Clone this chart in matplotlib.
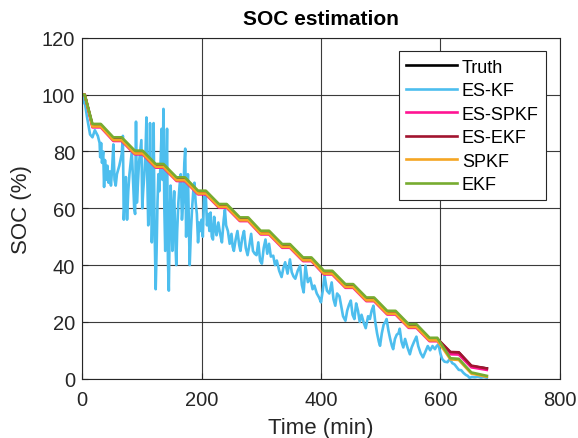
import numpy as np
import matplotlib
matplotlib.use('Agg')
import matplotlib.pyplot as plt

########## Data ##########
# staircase vertices (min) shared by the model-based filters
t_step = [0, 4, 17, 31, 52, 66, 88, 101, 123, 136, 158, 172, 194, 207, 229, 242, 264, 278, 299, 313,
          335, 348, 370, 384, 405, 419, 441, 454, 476, 489, 511, 525, 547, 560, 582, 595, 617, 631, 652, 678]

soc_truth = [100, 100, 89.1, 89.1, 84.4, 84.4, 79.7, 79.7, 75.0, 75.0, 70.3, 70.3, 65.6, 65.6, 60.9, 60.9,
             56.2, 56.2, 51.5, 51.5, 46.8, 46.8, 42.1, 42.1, 37.4, 37.4, 32.7, 32.7, 28.0, 28.0, 23.3, 23.3,
             18.6, 18.6, 13.9, 13.9, 9.2, 9.2, 4.4, 3.6]
soc_es_spkf = [100, 100, 88.5, 88.5, 83.7, 83.7, 79.0, 79.0, 74.3, 74.3, 69.6, 69.6, 64.9, 64.9, 60.2, 60.2,
               55.5, 55.5, 50.8, 50.8, 46.1, 46.1, 41.4, 41.4, 36.7, 36.7, 32.0, 32.0, 27.3, 27.3, 22.6, 22.6,
               17.9, 17.9, 13.2, 13.2, 8.6, 8.5, 4.0, 3.1]
soc_es_ekf = [100, 100, 89.3, 89.3, 84.6, 84.6, 79.9, 79.9, 75.2, 75.2, 70.5, 70.5, 65.8, 65.8, 61.1, 61.1,
              56.4, 56.4, 51.7, 51.7, 47.0, 47.0, 42.3, 42.3, 37.6, 37.6, 32.9, 32.9, 28.2, 28.2, 23.5, 23.5,
              18.8, 18.8, 14.1, 14.1, 9.4, 9.3, 4.6, 3.6]
soc_spkf = [100, 100, 88.8, 88.8, 84.0, 84.0, 79.3, 79.3, 74.6, 74.6, 69.9, 69.9, 65.2, 65.2, 60.5, 60.5,
            55.8, 55.8, 51.1, 51.1, 46.4, 46.4, 41.7, 41.7, 37.0, 37.0, 32.3, 32.3, 27.6, 27.6, 22.9, 22.9,
            18.2, 18.2, 13.5, 13.5, 6.8, 6.6, 1.8, 0.7]
soc_ekf = [100, 100, 89.7, 89.7, 85.0, 85.0, 80.3, 80.3, 75.6, 75.6, 70.9, 70.9, 66.2, 66.2, 61.5, 61.5,
           56.8, 56.8, 52.1, 52.1, 47.4, 47.4, 42.7, 42.7, 38.0, 38.0, 33.3, 33.3, 28.6, 28.6, 23.9, 23.9,
           19.2, 19.2, 14.4, 14.4, 7.2, 7.0, 2.2, 1.0]

# ES-KF (noisy) vertices
t_eskf = [0, 3, 8, 13, 17, 21, 26, 29,
          30, 31.5, 33, 35, 36.5, 38, 40, 42, 44, 46, 48, 50, 52, 54, 56, 58, 60,
          62, 64, 66, 68, 69.5, 71, 73, 75, 77, 79, 81, 83, 85, 87, 88.5, 90, 91.5, 93, 95,
          97, 99, 100.5, 102, 104, 106, 107.5, 109, 110.5, 112, 113.5, 115, 116.5, 118, 119.5, 121, 123, 124.5, 126, 127.5,
          129, 131, 133, 134.5, 136, 137.5, 139, 140.5, 142, 143.5, 145, 146.5, 148, 149.5, 151, 152.5, 154, 156, 157.5, 159,
          161, 163, 165, 167, 169, 171, 172.5, 174, 175.5, 177, 178.5, 180, 182, 184, 186, 188, 190, 192, 194, 196, 198, 200,
          202, 204, 207, 209, 211, 213, 215, 217, 219, 221, 223, 225, 228, 231, 234, 237, 239, 241, 244, 247,
          250, 252, 254, 257, 260, 263, 265, 268, 271, 274, 277, 280, 283, 286, 289, 292, 295, 298, 301,
          304, 307, 310, 313, 316, 320, 323, 326, 330, 334, 337, 340, 344, 348, 351, 354, 357, 361, 365, 368,
          371, 374, 378, 382, 386, 389, 393, 397, 400, 403, 406, 410, 414, 418, 421, 424,
          427, 431, 434, 437, 441, 444, 447, 450, 453, 456, 459, 462, 465, 468, 472, 475, 479, 482, 485, 488,
          491, 494, 497, 499,
          502, 505, 508, 510, 513, 516, 519, 521, 524, 527, 530, 532, 535, 538, 541, 545, 549, 552, 556, 560,
          563, 567, 571, 575, 579, 583, 587, 591, 594, 597, 600, 603, 607, 612, 616, 620, 624, 627, 631, 635,
          639, 643, 646, 649, 653, 658, 663, 668, 673, 678]
soc_eskf = [97, 99, 92, 86, 85, 87.5, 85.5, 83,
            78, 83, 76, 80, 67.5, 77, 70, 75, 69, 73, 68, 74, 82.5, 70, 68, 72, 73.5,
            75, 77, 79, 85.5, 56, 62, 71, 56, 66, 72, 76, 80, 70, 60, 58, 90.5, 62, 68, 76,
            80, 84, 60, 66, 72, 80, 92, 70, 54, 60, 90, 70, 48, 58, 90, 55, 31.5, 45, 62, 72,
            66, 75, 88, 70, 95, 60, 45, 70, 88, 42, 31, 55, 68, 58, 45, 60, 66, 48, 40, 52,
            62, 68, 72, 56, 62, 76, 81, 50, 64, 72, 56, 40, 52, 60, 66, 69, 62, 58, 48, 55, 52, 56,
            50, 64, 64.5, 54, 58, 52, 58.5, 50, 49, 57, 53, 50.5, 55, 51, 48, 56, 59.5, 54, 52, 47.5,
            51, 46.5, 45, 49, 52, 47, 45, 49.5, 52, 46, 43.5, 47, 51, 45, 44, 43.5, 48, 41.5, 40.5,
            46, 49, 44, 47.5, 43, 43.3, 40, 41.6, 38, 35.8, 39, 41, 37, 42, 37.5, 36, 35.2, 38, 39.8, 33,
            30.4, 39.8, 34, 35.5, 31.5, 32.8, 30, 28.5, 26.9, 31, 36.3, 31, 30, 33.9, 28, 25.7,
            30, 29, 25.5, 22, 20.4, 24, 26, 27.5, 22.5, 21, 26.5, 24, 20, 22.5, 19.5, 17.8, 22, 21, 24, 25.7,
            20, 16, 13, 11.6,
            16, 19, 20, 21, 17, 14, 11.5, 10.4, 14, 15.5, 16, 17.6, 13, 11, 14, 11, 8.6, 11, 13, 14.8,
            11.5, 9, 7.5, 9.5, 11.5, 10, 11.5, 10.4, 11.5, 12.1, 9, 7, 6, 5.8, 7, 5.5, 5, 4.2, 3.1, 3,
            2, 1.3, 1, 0.3, 0.6, 0.5, 0.7, 0.4, 0.6, 0.3]

series = ['Truth', 'ES-KF', 'ES-SPKF', 'ES-EKF', 'SPKF', 'EKF']
colors = ['#000000', '#4dbeee', '#ff1493', '#a2142f', '#f5a623', '#77ac30']

########## Plot ##########
plt.rcParams['font.family'] = ['Liberation Sans', 'DejaVu Sans']
fig = plt.figure(figsize = [5.78, 4.39], dpi = 100)
ax = fig.add_axes([0.1424, 0.1351, 0.8258, 0.7763])

lw = 1.9
ax.plot(t_step, soc_truth, color = colors[0], lw = lw, label = series[0])
ax.plot(t_eskf, soc_eskf, color = colors[1], lw = lw, label = series[1])
ax.plot(t_step, soc_es_spkf, color = colors[2], lw = lw, label = series[2])
ax.plot(t_step, soc_es_ekf, color = colors[3], lw = lw, label = series[3])
ax.plot(t_step, soc_spkf, color = colors[4], lw = lw, label = series[4])
ax.plot(t_step, soc_ekf, color = colors[5], lw = lw, label = series[5])

ax.set_xlim(0, 800)
ax.set_ylim(0, 120)
ax.set_xticks([0, 200, 400, 600, 800])
ax.set_yticks([0, 20, 40, 60, 80, 100, 120])
ax.grid(True, color = '#262626', lw = 0.8, alpha = 0.9)
ax.set_axisbelow(True)
ax.tick_params(direction = 'in', length = 4, labelsize = 14.5, colors = '#262626')
ax.tick_params(axis = 'x', pad = 8)
ax.tick_params(axis = 'y', pad = 5)
for sp in ax.spines.values():
    sp.set_color('#262626')
    sp.set_linewidth(0.8)

ax.set_title('SOC estimation', fontsize = 15, fontweight = 'bold', pad = 10)
ax.set_xlabel('Time (min)', fontsize = 16, color = '#262626', labelpad = 6)
ax.set_ylabel('SOC (%)', fontsize = 16, color = '#262626', labelpad = 7)

leg = ax.legend(loc = 'upper right', fontsize = 13, fancybox = False, framealpha = 1,
                edgecolor = '#262626', handlelength = 2.8, labelspacing = 0.36,
                borderaxespad = 0.75, handletextpad = 0.3, borderpad = 0.4)
leg.get_frame().set_linewidth(0.8)

fig.savefig('out.png', dpi = 100)
